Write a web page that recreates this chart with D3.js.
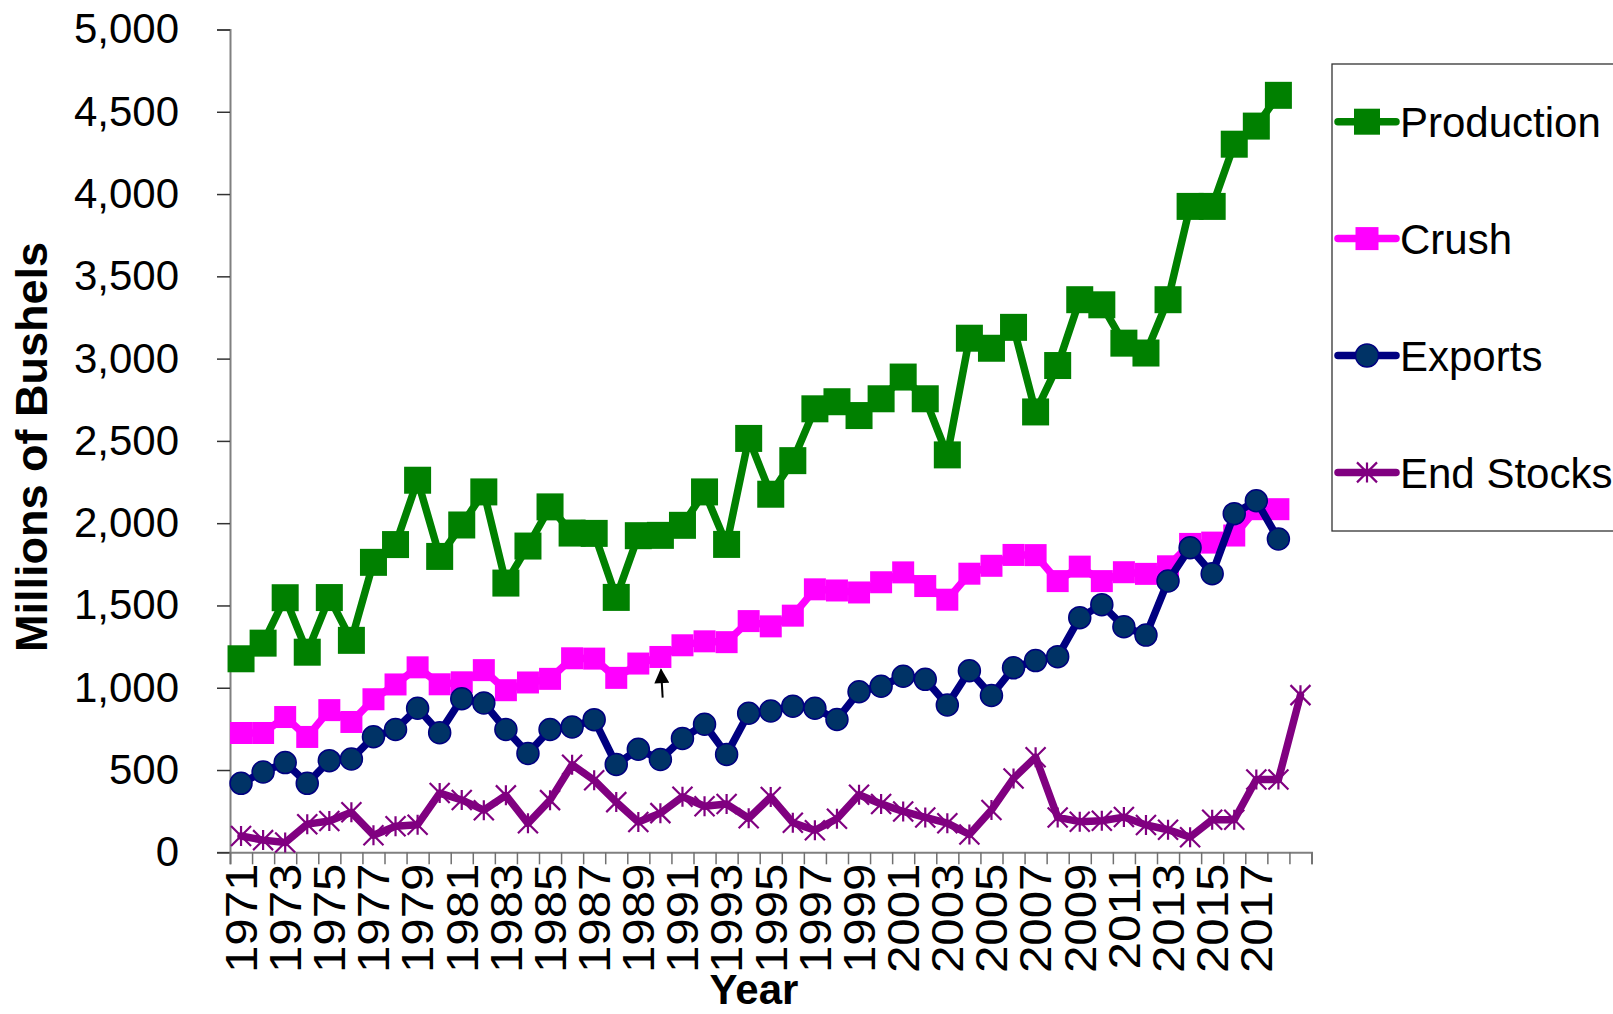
<!DOCTYPE html>
<html>
<head>
<meta charset="utf-8">
<script src="https://cdn.jsdelivr.net/npm/d3@7"></script>
<style>
  html, body { margin: 0; padding: 0; background: #fff; }
  svg { display: block; font-family: "Liberation Sans", Arial, sans-serif; }
</style>
</head>
<body>
<svg id="chart" width="1613" height="1014"></svg>
<script>
// Soybean supply and use, millions of bushels, by marketing year
const years = d3.range(1971, 2020);

const production = [1176, 1271, 1547, 1216, 1548, 1288, 1762, 1870, 2261, 1798,
  1989, 2190, 1636, 1861, 2099, 1940, 1938, 1549, 1924, 1926,
  1987, 2190, 1871, 2515, 2176, 2380, 2695, 2738, 2654, 2756,
  2888, 2756, 2415, 3124, 3063, 3190, 2676, 2958, 3358, 3327,
  3094, 3034, 3358, 3925, 3925, 4303, 4413, 4600, null];

const crush = [725, 725, 822, 701, 864, 792, 930, 1020, 1124, 1021,
  1033, 1107, 985, 1032, 1054, 1179, 1177, 1060, 1147, 1187,
  1258, 1282, 1277, 1405, 1373, 1438, 1598, 1591, 1579, 1641,
  1701, 1618, 1535, 1693, 1741, 1807, 1806, 1648, 1736, 1648,
  1702, 1692, 1738, 1874, 1882, 1925, 2085, 2085, null];

const exportsBu = [419, 488, 545, 419, 557, 567, 702, 746, 875, 727,
  933, 908, 746, 601, 746, 762, 806, 534, 626, 564,
  692, 778, 595, 845, 859, 888, 875, 807, 976, 1009,
  1070, 1051, 895, 1103, 953, 1121, 1165, 1189, 1426, 1505,
  1371, 1320, 1649, 1851, 1693, 2058, 2136, 1904, null];

const endStocks = [99, 74, 59, 171, 190, 243, 104, 158, 168, 360,
  318, 256, 346, 176, 317, 532, 438, 305, 184, 238,
  338, 280, 293, 207, 336, 180, 134, 204, 350, 294,
  248, 212, 177, 108, 257, 449, 578, 212, 186, 192,
  214, 166, 137, 92, 198, 198, 442, 442, 955];

const seriesNames = ["Production", "Crush", "Exports", "End Stocks"];
const yTicks = [0, 500, 1000, 1500, 2000, 2500, 3000, 3500, 4000, 4500, 5000];
const xTickLabels = ["1971", "1973", "1975", "1977", "1979", "1981", "1983", "1985",
  "1987", "1989", "1991", "1993", "1995", "1997", "1999", "2001", "2003", "2005",
  "2007", "2009", "2011", "2013", "2015", "2017"];

// annotation arrow: year and the value span it covers
const arrowYear = 1990;
const arrowFrom = 940, arrowTo = 1110;

const styles = [
  { color: "#008000", marker: "square", size: 27 },
  { color: "#ff00ff", marker: "square", size: 22 },
  { color: "#000080", marker: "circle", size: 22, fill: "#003366" },
  { color: "#800080", marker: "star", size: 20 }
];
const seriesData = [production, crush, exportsBu, endStocks];

const svg = d3.select("#chart");
const plotLeft = 230, plotRight = 1311.5, plotTop = 29.5, plotBottom = 852.3;

const x = d3.scaleBand().domain(years).range([plotLeft, plotRight]).padding(0);
const xc = d => x(d) + x.bandwidth() / 2;
const y = d3.scaleLinear().domain([0, 5000]).range([plotBottom, plotTop]);

// y axis
const yAxis = svg.append("g")
  .attr("transform", `translate(${plotLeft},0)`)
  .call(d3.axisLeft(y).tickValues(yTicks).tickSize(13).tickPadding(38)
    .tickFormat(d3.format(",")));
yAxis.select(".domain").attr("stroke", "#808080").attr("stroke-width", 2);
yAxis.selectAll(".tick line").attr("stroke", "#333").attr("stroke-width", 1.5);
yAxis.selectAll(".tick text").attr("font-size", 42).attr("fill", "#000")
  .attr("font-family", "Liberation Sans, Arial, sans-serif");

// x axis: boundary ticks between categories
const xb = d3.scaleLinear().domain([0, years.length]).range([plotLeft, plotRight]);
const xTickAxis = svg.append("g")
  .attr("transform", `translate(0,${plotBottom})`)
  .call(d3.axisBottom(xb).tickValues(d3.range(0, years.length + 1)).tickSize(12)
    .tickFormat(""));
xTickAxis.select(".domain").attr("stroke", "#808080").attr("stroke-width", 2);
xTickAxis.selectAll(".tick line").attr("stroke", "#707070").attr("stroke-width", 1.5);

// x axis labels, rotated (slightly stretched along the text direction)
const labelAxis = svg.append("g")
  .attr("transform", `translate(0,${plotBottom})`)
  .call(d3.axisBottom(x).tickValues(xTickLabels.map(Number)).tickSize(0).tickFormat(d3.format("d")));
labelAxis.select(".domain").remove();
labelAxis.selectAll(".tick text")
  .attr("font-size", 44).attr("fill", "#000")
  .attr("font-family", "Liberation Sans, Arial, sans-serif")
  .attr("text-anchor", "end")
  .attr("transform", "rotate(-90) scale(1.12,1)")
  .attr("x", -10).attr("y", 0).attr("dy", "0.36em");

// series
const line = d3.line()
  .defined(d => d.v != null)
  .x(d => xc(d.year))
  .y(d => y(d.v));

function drawMarker(g, st, cx, cy) {
  if (st.marker === "square") {
    g.append("rect")
      .attr("x", cx - st.size / 2).attr("y", cy - st.size / 2)
      .attr("width", st.size).attr("height", st.size)
      .attr("fill", st.color);
  } else if (st.marker === "circle") {
    g.append("circle").attr("cx", cx).attr("cy", cy).attr("r", st.size / 2)
      .attr("fill", st.fill).attr("stroke", st.color).attr("stroke-width", 1.5);
  } else {
    const h = st.size / 2;
    const p = `M${cx - h},${cy - h}L${cx + h},${cy + h}M${cx - h},${cy + h}L${cx + h},${cy - h}M${cx},${cy - h}L${cx},${cy + h}`;
    g.append("path").attr("d", p).attr("stroke", st.color).attr("stroke-width", 2.2).attr("fill", "none");
  }
}

seriesData.forEach((vals, i) => {
  const st = styles[i];
  const pts = years.map((yr, k) => ({ year: yr, v: vals[k] }));
  const g = svg.append("g").attr("class", "series");
  g.append("path").datum(pts).attr("d", line)
    .attr("fill", "none").attr("stroke", st.color).attr("stroke-width", 7.5)
    .attr("stroke-linejoin", "round").attr("stroke-linecap", "round");
  pts.filter(d => d.v != null).forEach(d => drawMarker(g, st, xc(d.year), y(d.v)));
});

// annotation arrow
const ax = xc(arrowYear);
svg.append("defs").append("marker")
  .attr("id", "arrowhead").attr("viewBox", "0 0 10 10")
  .attr("refX", 9).attr("refY", 5).attr("markerWidth", 16).attr("markerHeight", 15)
  .attr("markerUnits", "userSpaceOnUse").attr("orient", "auto")
  .append("path").attr("d", "M0,0L10,5L0,10Z").attr("fill", "#000");
svg.append("line")
  .attr("x1", ax + 2.3).attr("y1", y(arrowFrom))
  .attr("x2", ax + 0.6).attr("y2", y(arrowTo))
  .attr("stroke", "#000").attr("stroke-width", 2)
  .attr("marker-end", "url(#arrowhead)");

// axis titles
svg.append("text")
  .attr("transform", "translate(31,447) rotate(-90)")
  .attr("text-anchor", "middle").attr("dominant-baseline", "central")
  .attr("font-size", 45).attr("font-weight", "bold").text("Millions of Bushels");
svg.append("text")
  .attr("x", 754).attr("y", 1004)
  .attr("text-anchor", "middle")
  .attr("font-size", 42).attr("font-weight", "bold").text("Year");

// legend
const legend = svg.append("g");
legend.append("rect")
  .attr("x", 1332).attr("y", 64).attr("width", 320).attr("height", 467)
  .attr("fill", "#fff").attr("stroke", "#333").attr("stroke-width", 1.3);
seriesNames.forEach((name, i) => {
  const st = styles[i];
  const ly = 121.7 + i * 116.9;
  const lg = legend.append("g");
  lg.append("line").attr("x1", 1338).attr("x2", 1396).attr("y1", ly).attr("y2", ly)
    .attr("stroke", st.color).attr("stroke-width", 7.5).attr("stroke-linecap", "round");
  const legendStyle = Object.assign({}, st, { size: st.marker === "star" ? 20 : (i === 0 ? 26 : 23) });
  drawMarker(lg, legendStyle, 1367, ly);
  lg.append("text").attr("x", 1400).attr("y", ly).attr("dy", "0.36em")
    .attr("font-size", 42).attr("fill", "#000").text(name);
});
</script>
</body>
</html>
